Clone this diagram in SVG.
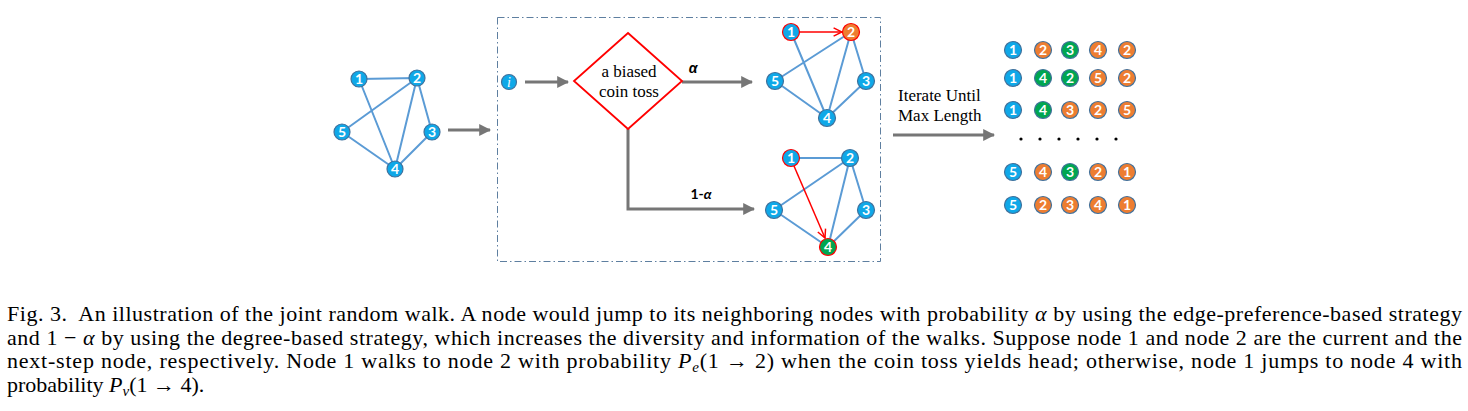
<svg xmlns="http://www.w3.org/2000/svg" width="1468" height="411" viewBox="0 0 1468 411">
<style>
.edge{stroke:#5B9BD5;stroke-width:2;fill:none}
.n{stroke:#41719C;stroke-width:1.2}
.b{fill:#0FA8E8}
.o{fill:#ED7D31}
.g{fill:#00A651}
.red{stroke:#FF0000;stroke-width:1.5}
.lbl{font-family:Lato,'Liberation Sans',sans-serif;font-size:14px;font-weight:bold;fill:#fff;text-anchor:middle}
.ga{stroke:#767676;stroke-width:3;fill:none}
.ser{font-family:'Liberation Serif','Times New Roman',Times,serif;fill:#000}
.cap{font-family:'Liberation Serif','Times New Roman',Times,serif;font-size:22px;fill:#000}
</style>
<defs>
<marker id="gh" viewBox="0 0 10 10" refX="9" refY="5" markerWidth="4" markerHeight="4" markerUnits="strokeWidth" orient="auto"><path d="M0,0 L10,5 L0,10 z" fill="#767676"/></marker>
<marker id="rh" viewBox="0 0 10 10" refX="9" refY="5" markerWidth="7" markerHeight="7" markerUnits="strokeWidth" orient="auto"><path d="M1,1 L9,5 L1,9" fill="none" stroke="#FF0000" stroke-width="1.4"/></marker>
</defs>
<rect x="497.5" y="17.5" width="383" height="244" fill="none" stroke="#5E7FA0" stroke-width="1" stroke-dasharray="7 3 1.5 3"/>
<g id="connectors">
<path class="edge" d="M359,79 L417,78 M359,79 L395,169 M417,78 L342,132 M417,78 L395,169 M417,78 L432,132 M342,132 L395,169 M432,132 L395,169"/>
<line class="ga" x1="448" y1="130" x2="490" y2="130" marker-end="url(#gh)"/>
<line class="ga" x1="525" y1="82" x2="568" y2="82" marker-end="url(#gh)"/>
<line class="ga" x1="682" y1="82" x2="752" y2="82" marker-end="url(#gh)"/>
<path class="ga" d="M628,129 L628,209 L754,209" marker-end="url(#gh)"/>
<line class="ga" x1="893" y1="135" x2="994" y2="135" marker-end="url(#gh)"/>
<path class="edge" d="M791,32 L827,118 M851,32 L775,81 M851,32 L827,118 M851,32 L866,81 M775,81 L827,118 M866,81 L827,118"/>
<line class="red" x1="799" y1="32" x2="842" y2="32" marker-end="url(#rh)"/>
<path class="edge" d="M791,158 L850,158 M850,158 L774,210 M850,158 L828,247 M850,158 L866,210 M774,210 L828,247 M866,210 L828,247"/>
<line class="red" x1="794" y1="166" x2="825" y2="238" marker-end="url(#rh)"/>
</g>
<g id="graph-left">
<circle class="n b" cx="359" cy="79" r="8"/><text class="lbl" x="359" y="84">1</text>
<circle class="n b" cx="417" cy="78" r="8"/><text class="lbl" x="417" y="83">2</text>
<circle class="n b" cx="432" cy="132" r="8"/><text class="lbl" x="432" y="137">3</text>
<circle class="n b" cx="395" cy="169" r="8"/><text class="lbl" x="395" y="174">4</text>
<circle class="n b" cx="342" cy="132" r="8"/><text class="lbl" x="342" y="137">5</text>
</g>
<g id="node-i">
<circle class="n b" cx="509" cy="82" r="7.5"/><text x="509" y="87" text-anchor="middle" font-family="'Liberation Serif',serif" font-style="italic" font-size="14" fill="#fff">i</text>
</g>
<g id="coin-toss">
<polygon points="628,33 682,81 628,129 574,81" fill="#fff" stroke="#FF0000" stroke-width="1.8"/>
<text class="ser" x="629" y="77" font-size="17" text-anchor="middle">a biased</text>
<text class="ser" x="629" y="97" font-size="17" text-anchor="middle">coin toss</text>
</g>
<g id="labels">
<text x="693" y="73" text-anchor="middle" font-family="'Liberation Sans',sans-serif" font-weight="bold" font-style="italic" font-size="14">α</text>
<text x="701" y="199" text-anchor="middle" font-family="Lato,'Liberation Sans',sans-serif" font-weight="bold" font-size="14">1-<tspan font-style="italic">α</tspan></text>
<text class="ser" x="898" y="101" font-size="17">Iterate Until</text>
<text class="ser" x="898" y="121" font-size="17">Max Length</text>
</g>
<g id="graph-top">
<circle class="n b" cx="791" cy="32" r="8.5" style="stroke:#FF0000"/><text class="lbl" x="791" y="37">1</text>
<circle class="n o" cx="851" cy="32" r="8.5" style="stroke:#FF0000"/><text class="lbl" x="851" y="37">2</text>
<circle class="n b" cx="866" cy="81" r="8.5"/><text class="lbl" x="866" y="86">3</text>
<circle class="n b" cx="827" cy="118" r="8.5"/><text class="lbl" x="827" y="123">4</text>
<circle class="n b" cx="775" cy="81" r="8.5"/><text class="lbl" x="775" y="86">5</text>
</g>
<g id="graph-bottom">
<circle class="n b" cx="791" cy="158" r="8.5" style="stroke:#FF0000"/><text class="lbl" x="791" y="163">1</text>
<circle class="n b" cx="850" cy="158" r="8.5"/><text class="lbl" x="850" y="163">2</text>
<circle class="n b" cx="866" cy="210" r="8.5"/><text class="lbl" x="866" y="215">3</text>
<circle class="n g" cx="828" cy="247" r="8.5" style="stroke:#FF0000"/><text class="lbl" x="828" y="252">4</text>
<circle class="n b" cx="774" cy="210" r="8.5"/><text class="lbl" x="774" y="215">5</text>
</g>
<g id="walks">
<g id="walk1">
<circle class="n b" cx="1013" cy="50" r="8.5"/><text class="lbl" x="1013" y="55">1</text>
<circle class="n o" cx="1043" cy="50" r="8.5"/><text class="lbl" x="1043" y="55">2</text>
<circle class="n g" cx="1070" cy="50" r="8.5"/><text class="lbl" x="1070" y="55">3</text>
<circle class="n o" cx="1098" cy="50" r="8.5"/><text class="lbl" x="1098" y="55">4</text>
<circle class="n o" cx="1127" cy="50" r="8.5"/><text class="lbl" x="1127" y="55">2</text>
</g>
<g id="walk2">
<circle class="n b" cx="1013" cy="78" r="8.5"/><text class="lbl" x="1013" y="83">1</text>
<circle class="n g" cx="1043" cy="78" r="8.5"/><text class="lbl" x="1043" y="83">4</text>
<circle class="n g" cx="1070" cy="78" r="8.5"/><text class="lbl" x="1070" y="83">2</text>
<circle class="n o" cx="1098" cy="78" r="8.5"/><text class="lbl" x="1098" y="83">5</text>
<circle class="n o" cx="1127" cy="78" r="8.5"/><text class="lbl" x="1127" y="83">2</text>
</g>
<g id="walk3">
<circle class="n b" cx="1013" cy="110" r="8.5"/><text class="lbl" x="1013" y="115">1</text>
<circle class="n g" cx="1043" cy="110" r="8.5"/><text class="lbl" x="1043" y="115">4</text>
<circle class="n o" cx="1070" cy="110" r="8.5"/><text class="lbl" x="1070" y="115">3</text>
<circle class="n o" cx="1098" cy="110" r="8.5"/><text class="lbl" x="1098" y="115">2</text>
<circle class="n o" cx="1127" cy="110" r="8.5"/><text class="lbl" x="1127" y="115">5</text>
</g>
<g id="dots" fill="#000">
<circle cx="1021" cy="139" r="1.6"/><circle cx="1040" cy="139" r="1.6"/><circle cx="1059" cy="139" r="1.6"/><circle cx="1078" cy="139" r="1.6"/><circle cx="1097" cy="139" r="1.6"/><circle cx="1116" cy="139" r="1.6"/>
</g>
<g id="walk4">
<circle class="n b" cx="1013" cy="172" r="8.5"/><text class="lbl" x="1013" y="177">5</text>
<circle class="n o" cx="1043" cy="172" r="8.5"/><text class="lbl" x="1043" y="177">4</text>
<circle class="n g" cx="1070" cy="172" r="8.5"/><text class="lbl" x="1070" y="177">3</text>
<circle class="n o" cx="1098" cy="172" r="8.5"/><text class="lbl" x="1098" y="177">2</text>
<circle class="n o" cx="1127" cy="172" r="8.5"/><text class="lbl" x="1127" y="177">1</text>
</g>
<g id="walk5">
<circle class="n b" cx="1013" cy="205" r="8.5"/><text class="lbl" x="1013" y="210">5</text>
<circle class="n o" cx="1043" cy="205" r="8.5"/><text class="lbl" x="1043" y="210">2</text>
<circle class="n o" cx="1070" cy="205" r="8.5"/><text class="lbl" x="1070" y="210">3</text>
<circle class="n o" cx="1098" cy="205" r="8.5"/><text class="lbl" x="1098" y="210">4</text>
<circle class="n o" cx="1127" cy="205" r="8.5"/><text class="lbl" x="1127" y="210">1</text>
</g>
</g>
<g id="caption">
<text class="cap" x="7" y="321" textLength="1455" lengthAdjust="spacing">Fig. 3.&#160; An illustration of the joint random walk. A node would jump to its neighboring nodes with probability <tspan font-style="italic">α</tspan> by using the edge-preference-based strategy</text>
<text class="cap" x="7" y="344.5" textLength="1455" lengthAdjust="spacing">and 1 − <tspan font-style="italic">α</tspan> by using the degree-based strategy, which increases the diversity and information of the walks. Suppose node 1 and node 2 are the current and the</text>
<text class="cap" x="7" y="368" textLength="1455" lengthAdjust="spacing">next-step node, respectively. Node 1 walks to node 2 with probability <tspan font-style="italic">P</tspan><tspan font-style="italic" font-size="15" dy="4">e</tspan><tspan dy="-4">(1 → 2) when the coin toss yields head; otherwise, node 1 jumps to node 4 with</tspan></text>
<text class="cap" x="7" y="391.5">probability <tspan font-style="italic">P</tspan><tspan font-style="italic" font-size="15" dy="4">v</tspan><tspan dy="-4">(1&#160;→&#160;4).</tspan></text>
</g>
</svg>
